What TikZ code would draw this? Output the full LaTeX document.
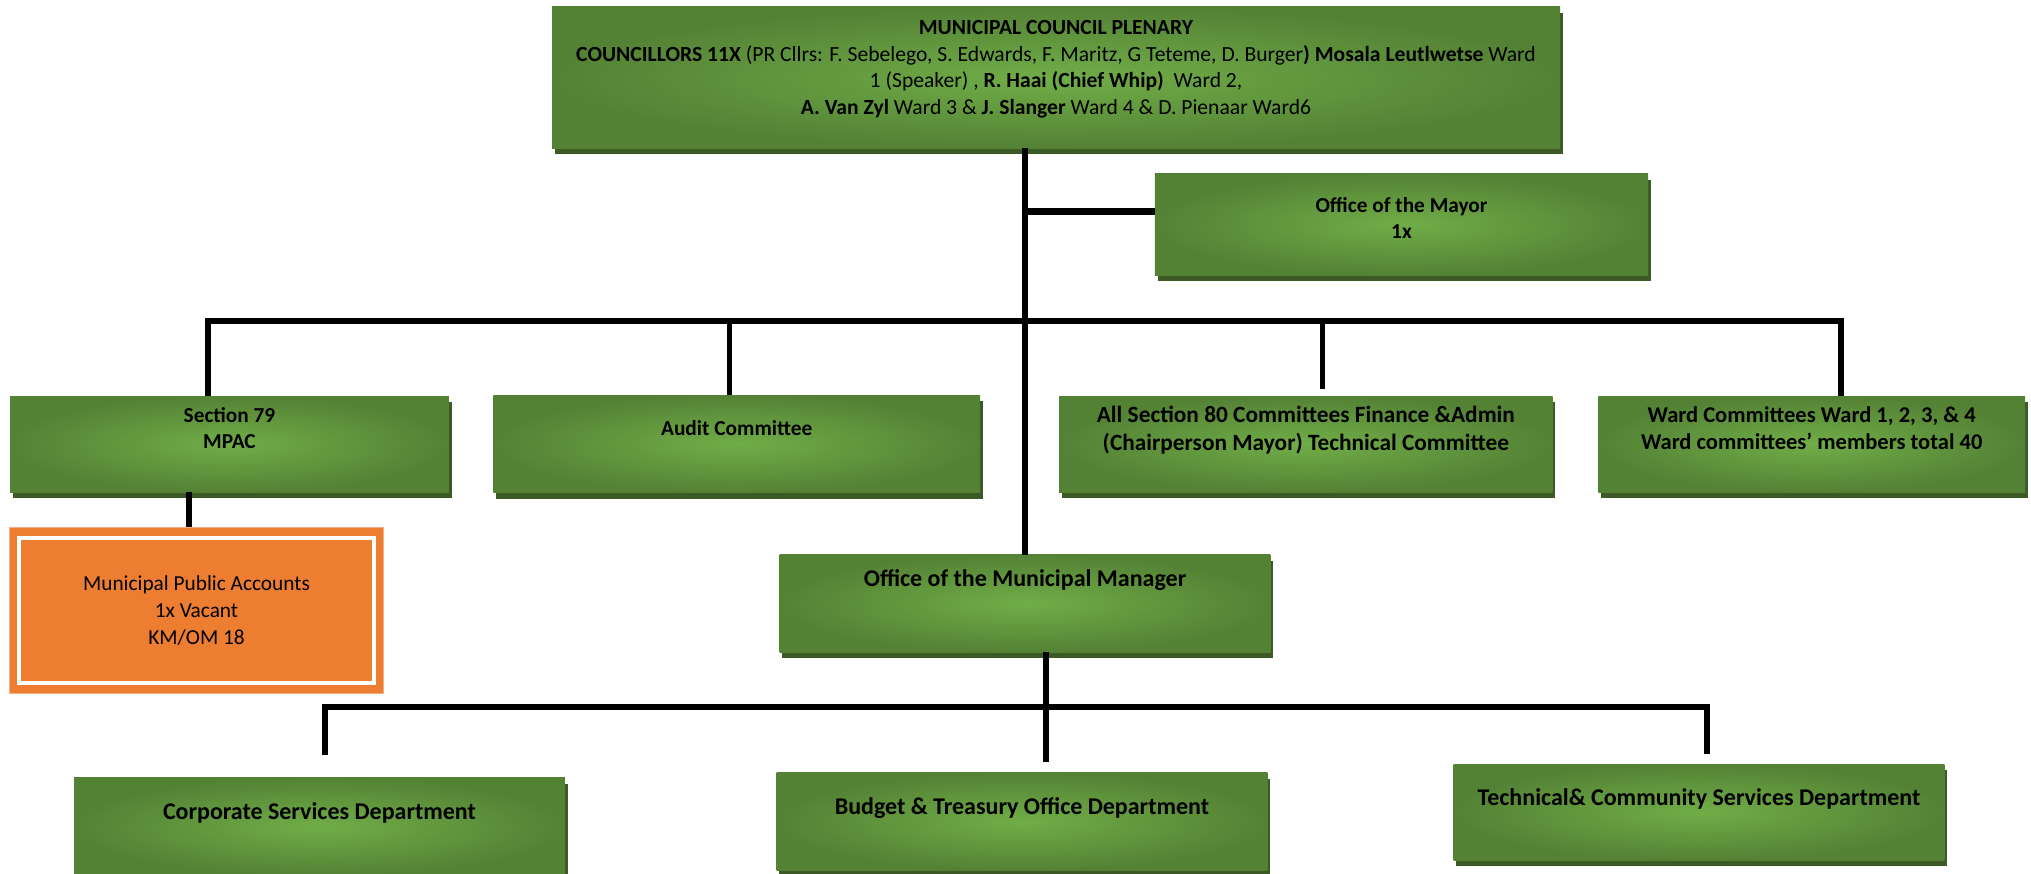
\documentclass[tikz,border=0pt]{standalone}
\usepackage{fontspec}
\setmainfont{Carlito}
\usetikzlibrary{positioning,shadows}

\definecolor{grLight}{HTML}{70AD47}
\definecolor{grDark}{HTML}{548235}
\definecolor{grShadow}{HTML}{3B5A26}
\definecolor{vacantOrange}{HTML}{ED7D31}
\definecolor{vacantEdge}{HTML}{F4B183}

\begin{document}
\begin{tikzpicture}[x=0.75pt,y=-0.75pt]
        % Styles
        \tikzstyle{unit} = [rectangle, inner color=grLight, outer color=grDark,
        general shadow={fill=grShadow, shadow xshift=2pt, shadow yshift=-4.5pt},
        align=center, inner sep=2pt, font=\bfseries\fontsize{16}{20}\selectfont,
        minimum width=368pt, minimum height=73pt]
        \tikzstyle{bigunit} = [unit, font=\bfseries\fontsize{18}{21}\selectfont]
        \tikzstyle{vacant} = [rectangle, fill=vacantOrange, draw=vacantEdge, line width=0.8pt,
        align=center, font=\fontsize{16}{20}\selectfont,
        minimum width=281pt, minimum height=124pt]
        \tikzstyle{wire} = [draw=black, line width=5pt]
        \tikzstyle{thinwire} = [wire, line width=3.75pt]

        \useasboundingbox (0,0) rectangle (2031,874);

        % Nodes
        \node (council) [unit, minimum width=756pt, minimum height=106pt, text depth=15pt,
              font=\fontsize{16.2}{20}\selectfont] at (1056,77.5)
              {\textbf{MUNICIPAL COUNCIL PLENARY}\\
               \textbf{COUNCILLORS 11X} (PR Cllrs: F. Sebelego, S. Edwards, F. Maritz, G Teteme, D. Burger\textbf{)} \textbf{Mosala Leutlwetse} Ward\\
               1 (Speaker) , \textbf{R. Haai (Chief Whip)}\ \ Ward 2,\\
               \textbf{A. Van Zyl} Ward 3 \& \textbf{J. Slanger} Ward 4 \& D. Pienaar Ward6};
        \node (mayor)   [unit, minimum width=370pt, minimum height=76pt, text depth=10pt]
              at (1401.5,224.5) {Office of the Mayor\\1x};
        \node (sec79)   [unit, minimum width=329pt, minimum height=72pt, text depth=24pt]
              at (229.5,444) {Section 79\\MPAC};
        \node (audit)   [unit, minimum width=365pt, text depth=24pt, right=33pt of sec79]
              {Audit Committee};
        \node (sec80)   [unit, minimum width=370pt, minimum height=72pt, text depth=24pt,
              font=\bfseries\fontsize{17.5}{21}\selectfont, right=59pt of audit]
              {All Section 80 Committees Finance \&Admin\\(Chairperson Mayor) Technical Committee};
        \node (ward)    [unit, minimum width=320pt, minimum height=72pt, text depth=24pt,
              font=\bfseries\fontsize{16.9}{20.5}\selectfont, right=34pt of sec80]
              {Ward Committees Ward 1, 2, 3, \& 4\\Ward committees’ members total 40};
        \node (mpa)     [vacant] at (196.5,610.5)
              {Municipal Public Accounts\\1x Vacant\\KM/OM 18};
        \node (mm)      [bigunit, text depth=38pt] at (1025,603.5)
              {Office of the Municipal Manager};
        \node (corp)    [bigunit, text depth=23pt] at (319.5,826.5)
              {Corporate Services Department};
        \node (budget)  [bigunit, text depth=23pt] at (1022,821.5)
              {Budget \& Treasury Office Department};
        \node (tech)    [bigunit, minimum height=72pt, text depth=23pt] at (1699,812)
              {Technical\& Community Services Department};

        % white frame of the vacant post
        \draw [white, line width=3pt] ([xshift=8pt,yshift=8pt]mpa.south west)
              rectangle ([xshift=-8pt,yshift=-8pt]mpa.north east);

        % Bus points
        \coordinate (spine)     at (1025,0);
        \coordinate (busL)      at (208,321);
        \coordinate (busR)      at (1841,321);
        \coordinate (tapAudit)  at (729,321);
        \coordinate (tapSec80)  at (1322,321);
        \coordinate (tapMpac)   at (189,0);
        \coordinate (deptL)     at (325,707);
        \coordinate (deptM)     at (1046,707);
        \coordinate (deptR)     at (1707,707);

        % Edges
        \draw [wire] (council.south -| spine) -- (mm.north -| spine);
        \draw [wire] ([yshift=10pt]mayor.west -| spine) -- ([yshift=10pt]mayor.west);
        \draw [wire] (busL |- sec79.north) -- (busL) -- (busR) -- (busR |- ward.north);
        \draw [thinwire] (tapAudit) -- (tapAudit |- audit.north);
        \draw [thinwire, shorten >=5pt] (tapSec80) -- (tapSec80 |- sec80.north);
        \draw [wire] (sec79.south -| tapMpac) -- (mpa.north -| tapMpac);
        \draw [wire, shorten >=8pt] (mm.south -| deptM) -- (budget.north -| deptM);
        \draw [wire, shorten <=17pt, shorten >=7pt] (corp.north -| deptL) -- (deptL)
              -- (deptR) -- (tech.north -| deptR);

    \end{tikzpicture}
\end{document}
